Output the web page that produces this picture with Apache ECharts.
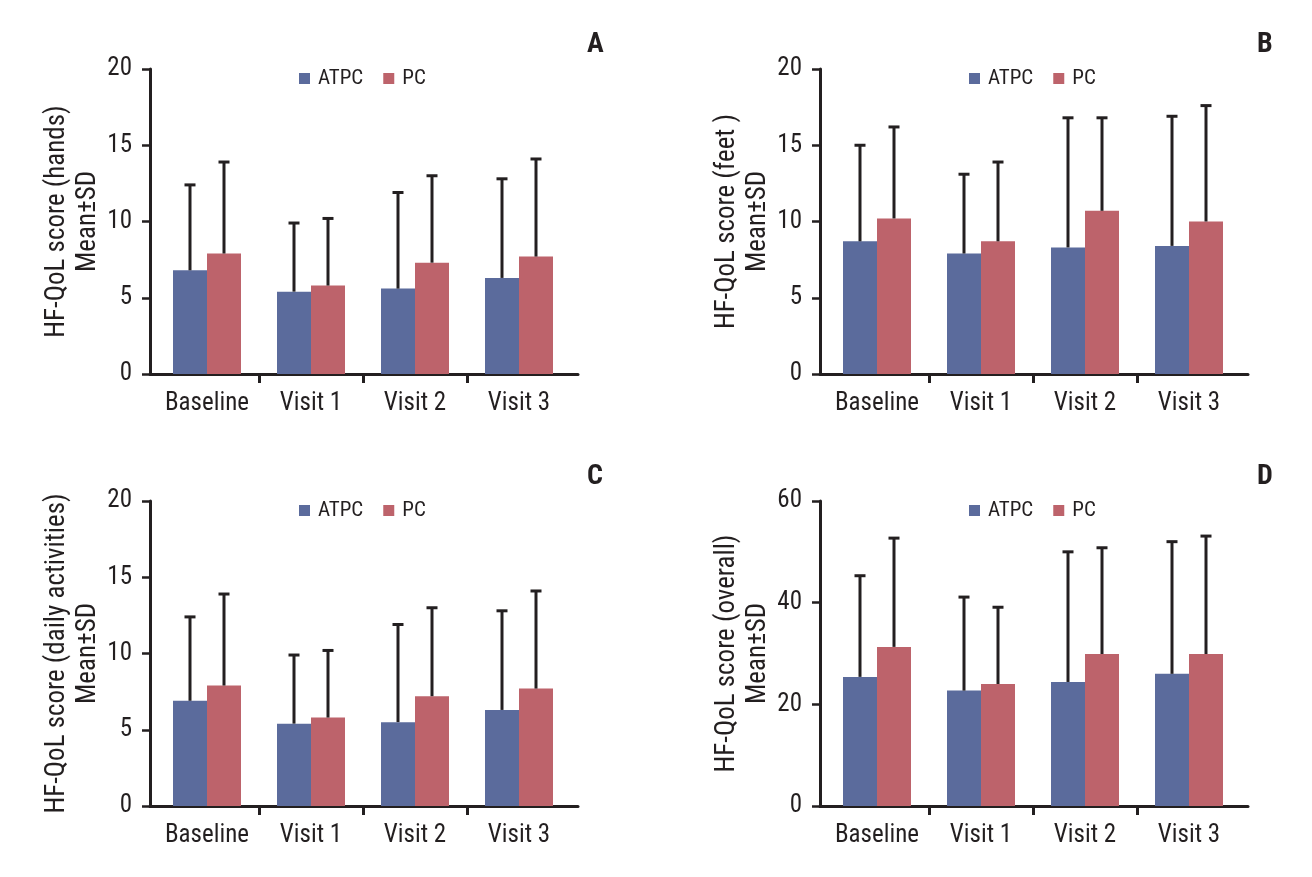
<!DOCTYPE html>
<html><head><meta charset="utf-8">
<script src="https://cdn.jsdelivr.net/npm/echarts@6/dist/echarts.min.js"></script>
<style>html,body{margin:0;padding:0;background:#fff}#c{width:1312px;height:877px}</style>
</head><body><div id="c"></div>
<script>
// ---- data ----
const categories = ['Baseline', 'Visit 1', 'Visit 2', 'Visit 3'];
const seriesNames = ['ATPC', 'PC'];
const panelLetters = ['A', 'B', 'C', 'D'];
const yAxisTitles = ['HF-QoL score (hands)', 'HF-QoL score (feet )', 'HF-QoL score (daily activities)', 'HF-QoL score (overall)'];
const yAxisSubtitle = 'Mean±SD';
const yMax = [20, 20, 20, 60];
const yInterval = [5, 5, 5, 20];

const handsATPCMean = [6.8, 5.4, 5.6, 6.3];
const handsATPCSD   = [5.6, 4.5, 6.3, 6.5];
const handsPCMean   = [7.9, 5.8, 7.3, 7.7];
const handsPCSD     = [6.0, 4.4, 5.7, 6.4];

const feetATPCMean = [8.7, 7.9, 8.3, 8.4];
const feetATPCSD   = [6.3, 5.2, 8.5, 8.5];
const feetPCMean   = [10.2, 8.7, 10.7, 10.0];
const feetPCSD     = [6.0, 5.2, 6.1, 7.6];

const dailyATPCMean = [6.9, 5.4, 5.5, 6.3];
const dailyATPCSD   = [5.5, 4.5, 6.4, 6.5];
const dailyPCMean   = [7.9, 5.8, 7.2, 7.7];
const dailyPCSD     = [6.0, 4.4, 5.8, 6.4];

const overallATPCMean = [25.4, 22.7, 24.4, 26.0];
const overallATPCSD   = [19.9, 18.4, 25.6, 26.0];
const overallPCMean   = [31.3, 24.0, 29.9, 29.9];
const overallPCSD     = [21.4, 15.1, 20.9, 23.2];

const panelMeans = [
  [handsATPCMean, handsPCMean],
  [feetATPCMean, feetPCMean],
  [dailyATPCMean, dailyPCMean],
  [overallATPCMean, overallPCMean]
];
const panelSDs = [
  [handsATPCSD, handsPCSD],
  [feetATPCSD, feetPCSD],
  [dailyATPCSD, dailyPCSD],
  [overallATPCSD, overallPCSD]
];

// ---- style ----
const FONT = "'Roboto Condensed', 'Liberation Sans Narrow', 'Arial Narrow', Roboto, sans-serif";
const INK = '#231f20';
const COLORS = ['#5b6b9c', '#bd636b'];
const BAR_W = 34;
const gridLefts = [155, 825, 155, 825];
const gridTops = [69, 69, 501, 501];
const GRID_W = 416, GRID_H = 305;
const Y_OFFSET = 5;
const LINE_OVERHANG = 7;
const CAT_W = GRID_W / categories.length;
const NAME_STYLE = { color: INK, fontSize: 27, fontFamily: FONT, lineHeight: 31 };

const grids = [], xAxes = [], yAxes = [], series = [], legends = [], titles = [];

for (let p = 0; p < 4; p++) {
  // main plotting grid
  const g = grids.length;
  grids.push({ left: gridLefts[p], top: gridTops[p], width: GRID_W, height: GRID_H });
  xAxes.push({
    type: 'category', gridIndex: g, data: categories, boundaryGap: true,
    axisLine: { show: false },
    axisTick: { show: false },
    axisLabel: { color: INK, fontSize: 25, fontFamily: FONT, margin: 17, interval: 0 },
    splitLine: { show: false }
  });
  yAxes.push({
    type: 'value', gridIndex: g, min: 0, max: yMax[p], interval: yInterval[p], offset: Y_OFFSET,
    name: '{t|' + yAxisTitles[p] + '}\n{t|' + yAxisSubtitle + '}',
    nameLocation: 'middle', nameRotate: 90, nameGap: 46,
    nameTextStyle: Object.assign({ rich: { t: NAME_STYLE } }, NAME_STYLE),
    axisLine: { show: true, lineStyle: { color: INK, width: 3 } },
    axisTick: { show: true, length: 8, lineStyle: { color: INK, width: 2.5 } },
    axisLabel: { color: INK, fontSize: 25, fontFamily: FONT, margin: 18 },
    splitLine: { show: false }
  });
  const xi = xAxes.length - 1, yi = yAxes.length - 1;
  for (let s = 0; s < 2; s++) {
    series.push({
      name: seriesNames[s], type: 'bar', xAxisIndex: xi, yAxisIndex: yi,
      data: panelMeans[p][s], barWidth: BAR_W, barGap: '0%',
      itemStyle: { color: COLORS[s] }, z: 2
    });
    const sign = s === 0 ? -1 : 1;
    series.push({
      type: 'custom', xAxisIndex: xi, yAxisIndex: yi, z: 3, silent: true,
      data: panelMeans[p][s].map((m, i) => [i, m, m + panelSDs[p][s][i]]),
      renderItem: function (params, api) {
        const c0 = api.coord([api.value(0), api.value(1)]);
        const c1 = api.coord([api.value(0), api.value(2)]);
        const x = c0[0] + sign * BAR_W / 2;
        return {
          type: 'group', children: [
            { type: 'line', shape: { x1: x, y1: c0[1], x2: x, y2: c1[1] }, style: { stroke: INK, lineWidth: 3 } },
            { type: 'line', shape: { x1: x - 5.5, y1: c1[1], x2: x + 5.5, y2: c1[1] }, style: { stroke: INK, lineWidth: 3 } }
          ]
        };
      }
    });
  }

  // x axis baseline: runs from the y axis to a little past the last category
  const g2 = grids.length;
  grids.push({ left: gridLefts[p] - Y_OFFSET, top: gridTops[p], width: GRID_W + Y_OFFSET + LINE_OVERHANG, height: GRID_H });
  xAxes.push({
    type: 'value', gridIndex: g2, min: 0, max: 1,
    axisLine: { show: true, onZero: false, lineStyle: { color: INK, width: 3 } },
    axisTick: { show: false }, axisLabel: { show: false }, splitLine: { show: false }
  });
  yAxes.push({ type: 'value', gridIndex: g2, show: false, min: 0, max: 1 });

  // category boundary ticks between the groups (inner boundaries only)
  const g3 = grids.length;
  grids.push({ left: gridLefts[p] + CAT_W, top: gridTops[p], width: GRID_W - 2 * CAT_W, height: GRID_H });
  xAxes.push({
    type: 'category', gridIndex: g3, data: categories.slice(1, -1), boundaryGap: true,
    axisLine: { show: false },
    axisTick: { show: true, length: 9, lineStyle: { color: INK, width: 3 } },
    axisLabel: { show: false }, splitLine: { show: false }
  });
  yAxes.push({ type: 'value', gridIndex: g3, show: false, min: 0, max: 1 });

  legends.push({
    data: seriesNames, left: gridLefts[p] + 139, top: gridTops[p] - 6,
    icon: 'rect', itemWidth: 11, itemHeight: 11, itemGap: 20,
    selectedMode: false,
    textStyle: { color: INK, fontSize: 21, fontFamily: FONT, padding: [0, 0, 0, 3] }
  });
  titles.push({
    text: panelLetters[p], left: gridLefts[p] + 427, top: gridTops[p] - 43,
    textStyle: { color: INK, fontSize: 28, fontWeight: 'bold', fontFamily: FONT }
  });
}

const chart = echarts.init(document.getElementById('c'), null, { renderer: 'canvas' });
chart.setOption({
  animation: false,
  backgroundColor: '#ffffff',
  title: titles,
  legend: legends,
  grid: grids,
  xAxis: xAxes,
  yAxis: yAxes,
  series: series
});
</script>
</body></html>
